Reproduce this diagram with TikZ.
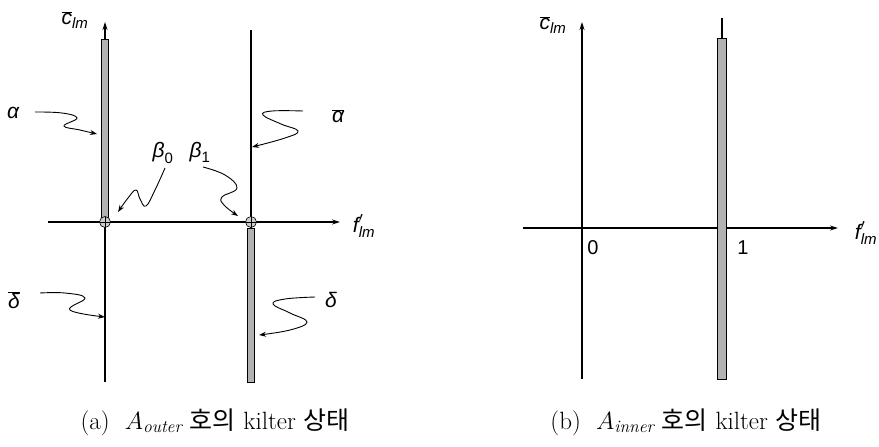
\documentclass[tikz,border=0pt]{standalone}
\usepackage{fontspec}
\newfontfamily\labfont{Liberation Sans}
\newfontfamily\krfont{Noto Sans CJK KR}
\usetikzlibrary{arrows.meta}

\newcommand{\barred}[1]{\overline{\hbox{#1}}}
\newcommand{\smalltxt}[1]{\hbox{\fontsize{15}{16}\selectfont #1}}

\tikzset{
	axis/.style={line width=1.1pt, -{Stealth[length=8pt,width=5pt]}},
	wiggle/.style={line width=0.9pt, -{Stealth[length=7pt,width=5pt]}},
	bar/.style={fill=gray!60, draw=black, line width=0.6pt},
	lab/.style={font=\labfont\fontsize{21}{24}\selectfont\itshape, inner sep=1pt},
	num/.style={font=\labfont\fontsize{20}{22}\selectfont, inner sep=1pt},
	captext/.style={font=\fontsize{25}{28}\selectfont, inner sep=0pt}
}

\begin{document}
\begin{tikzpicture}[x=1pt, y=-1pt]
	\useasboundingbox (0,0) rectangle (879,447);
	% (a) outer
	\draw[axis] (105,382) -- (105,22);
	\draw[axis] (48,222) -- (340,222);
	\draw[line width=1.1pt] (251,30) -- (251,382);
	\draw[bar] (101.5,39) rectangle (108.5,218);
	\draw[bar] (247.5,228) rectangle (254.5,382);
	\foreach \x in {105,251} {
		\draw[fill=gray!40, line width=0.6pt] (\x,222) circle[radius=5.5pt];
		\draw[line width=0.5pt] (\x-5.5,222) -- (\x+5.5,222) (\x,216.5) -- (\x,227.5);
	}
	\node[lab] (cA) at (75,20) {$\barred{c}_{\smalltxt{lm}}$};
	\node[lab] (fA) at (364,226) {$\hbox{f}'_{\smalltxt{lm}}$};
	\node[lab] (al) at (13,113) {α};
	\node[lab] (alb) at (338,116) {$\barred{α}$};
	\node[lab] (b0) at (163,153) {$\hbox{β}_{\smalltxt{\upshape 0}}$};
	\node[lab] (b1) at (200,152) {$\hbox{β}_{\smalltxt{\upshape 1}}$};
	\node[lab] (deb) at (14,300) {$\barred{δ}$};
	\node[lab] (de) at (331,300) {δ};
	\coordinate (alE) at (97,134);
	\coordinate (albE) at (252,147);
	\coordinate (b0E) at (118,212);
	\coordinate (b1E) at (238,216);
	\coordinate (debE) at (105,317);
	\coordinate (deE) at (259,335);
	\draw[wiggle] plot[smooth, tension=0.7] coordinates {(35,112) (62,113) (77,118) (64,126) (80,130) (alE)};
	\draw[wiggle] plot[smooth, tension=0.7] coordinates {(303,111) (272,111) (263,115) (281,124) (298,131) (285,138) (albE)};
	\draw[wiggle] plot[smooth, tension=0.7] coordinates {(165,168) (155,190) (146,206) (140,199) (136,190) (128,198) (b0E)};
	\draw[wiggle] plot[smooth, tension=0.7] coordinates {(203,167) (225,175) (237,188) (222,197) (224,205) (b1E)};
	\draw[wiggle] plot[smooth, tension=0.7] coordinates {(40,293) (65,293) (85,298) (70,310) (debE)};
	\draw[wiggle] plot[smooth, tension=0.7] coordinates {(315,297) (285,299) (273,304) (290,313) (307,322) (290,330) (deE)};
	\node[captext] (capA) at (215,422) {(a)\ \ $A_{\mathit{outer}}$ {\krfont 호의} kilter {\krfont 상태}};
	% (b) inner
	\draw[axis] (582,379) -- (582,22);
	\draw[axis] (523,228) -- (838,228);
	\draw[line width=1.1pt] (722,18) -- (722,379);
	\draw[bar] (717.5,38) rectangle (726.5,379);
	\node[lab] (cB) at (553,25) {$\barred{c}_{\smalltxt{lm}}$};
	\node[lab] (fB) at (866,233) {$\hbox{f}'_{\smalltxt{lm}}$};
	\node[num] (n0) at (593,248) {0};
	\node[num] (n1) at (743,248) {1};
	\node[captext] (capB) at (686,422) {(b)\ \ $A_{\mathit{inner}}$ {\krfont 호의} kilter {\krfont 상태}};
\end{tikzpicture}
\end{document}
